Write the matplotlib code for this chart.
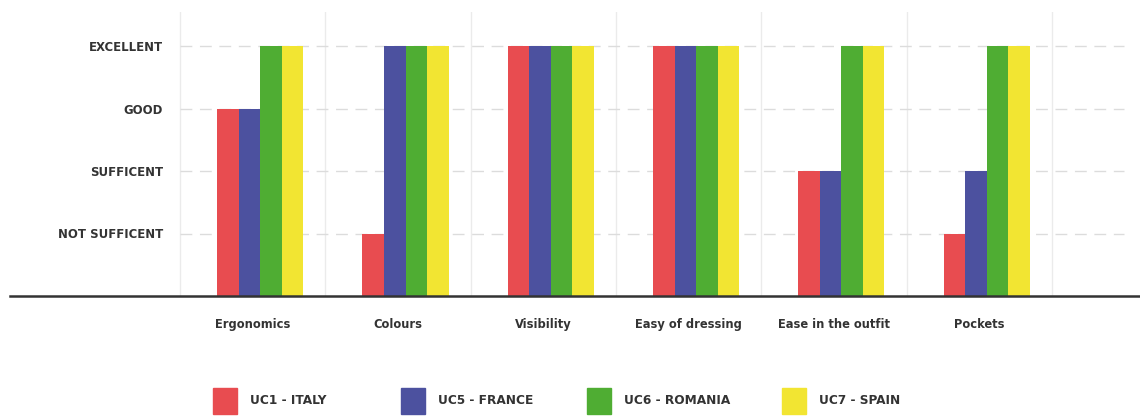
import matplotlib
matplotlib.use("Agg")
import matplotlib.pyplot as plt
import numpy as np
from matplotlib.patches import Rectangle

categories = ["Ergonomics", "Colours", "Visibility", "Easy of dressing",
              "Ease in the outfit", "Pockets"]
level_labels = ["NOT SUFFICENT", "SUFFICENT", "GOOD", "EXCELLENT"]
level_values = [1, 2, 3, 4]
series_names = ["UC1 - ITALY", "UC5 - FRANCE", "UC6 - ROMANIA", "UC7 - SPAIN"]
italy = [3, 1, 4, 4, 2, 1]
france = [3, 4, 4, 4, 2, 2]
romania = [4, 4, 4, 4, 4, 4]
spain = [4, 4, 4, 4, 4, 4]
series = [italy, france, romania, spain]
colors = ["#E84C50", "#4C519F", "#4FAD33", "#F2E532"]

W, H = 1140, 417
fig = plt.figure(figsize=(W / 100, H / 100), dpi=100)
ax_left, ax_right, ax_top, ax_bot = 10, 1140, 12, 296
ax = fig.add_axes([ax_left / W, 1 - ax_bot / H, (ax_right - ax_left) / W,
                   (ax_bot - ax_top) / H])

cell = 145.3
x0_pix = 180
xmin = (ax_left - x0_pix) / cell - 0.5
xmax = (ax_right - x0_pix) / cell - 0.5
ax.set_xlim(xmin, xmax)
ax.set_ylim(0, (ax_bot - ax_top) / 62.5)

x = np.arange(len(categories))
bw = 0.148
offset = 0.052
for i, (vals, c) in enumerate(zip(series, colors)):
    ax.bar(x + offset + (i - 1.5) * bw, vals, width=bw, color=c,
           edgecolor="none", zorder=3)

# separators
for s in np.arange(len(categories) + 1) - 0.5:
    ax.axvline(s, color="#ebebeb", lw=1, zorder=1)
# dashed grid
ax.hlines(level_values, -0.5, 6.0, colors="#dcdcdc", linestyles=(0, (8.5, 5.5)),
          lw=1, zorder=1)

for sp in ["top", "right", "left"]:
    ax.spines[sp].set_visible(False)
ax.spines["bottom"].set_color("#333333")
ax.spines["bottom"].set_linewidth(1.8)
ax.spines["bottom"].set_zorder(4)

font = dict(fontweight="bold", color="#333333", fontstretch="condensed")

ax.set_xticks(x)
ax.set_xticklabels(categories, fontsize=9.2, **font)
ax.tick_params(axis="x", length=0, pad=16)

ax.set_yticks(level_values)
ax.set_yticklabels(level_labels, fontsize=9.4, **font)
ax.tick_params(axis="y", length=0, pad=-(163 - ax_left) * 0.72)

# legend
sq_x = [213, 401, 587, 782]
for name, c, px in zip(series_names, colors, sq_x):
    fig.patches.append(Rectangle((px / W, 1 - 414 / H), 24 / W, 26 / H,
                                 transform=fig.transFigure, color=c,
                                 figure=fig))
    fig.text((px + 37) / W, 1 - 401 / H, name, fontsize=9.7, va="center",
             ha="left", **font)

fig.savefig("out.png", dpi=100)
